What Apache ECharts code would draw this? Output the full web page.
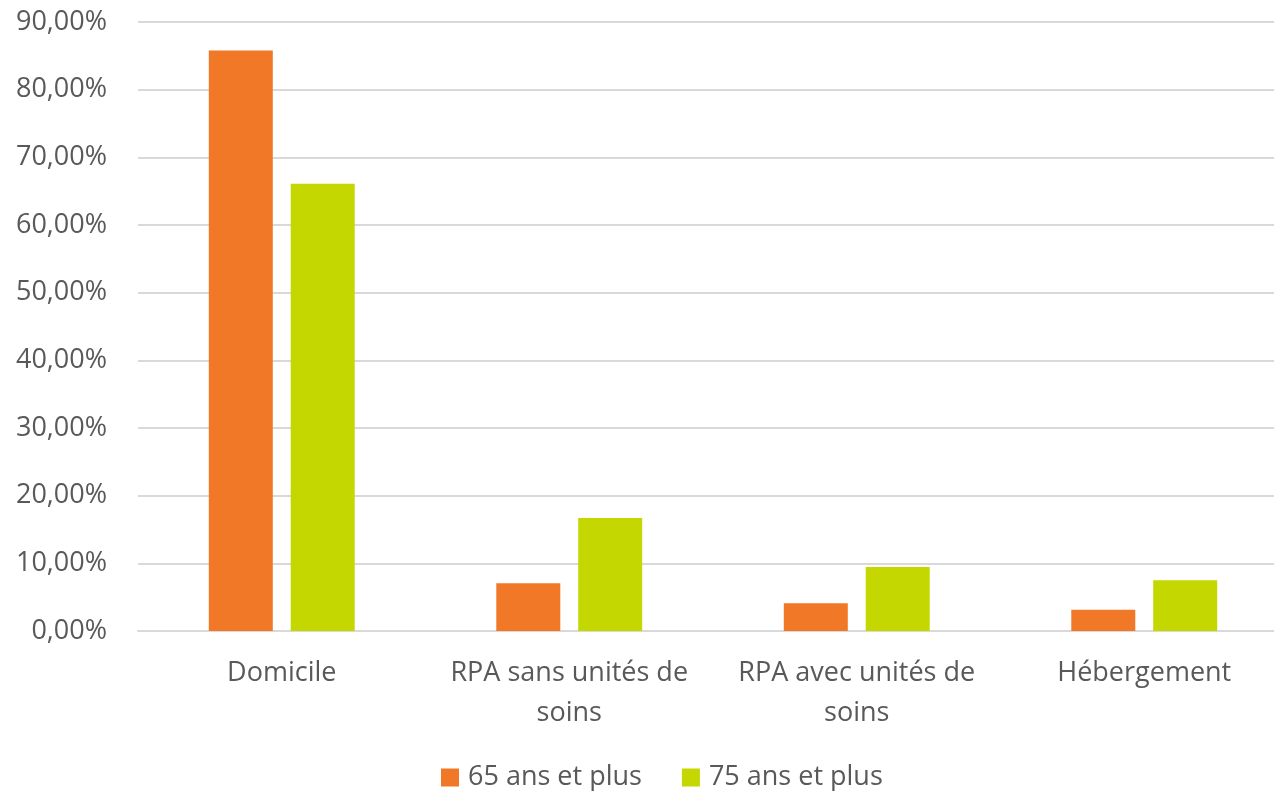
<!DOCTYPE html>
<html>
<head>
<meta charset="utf-8">
<script src="https://cdn.jsdelivr.net/npm/echarts@6/dist/echarts.min.js"></script>
<style>
  html, body { margin: 0; padding: 0; background: #fff; }
  #chart { width: 1274px; height: 791px; }
</style>
</head>
<body>
<div id="chart"></div>
<script>
// données (en %)
var categories = ['Domicile', 'RPA sans unités de\nsoins', 'RPA avec unités de\nsoins', 'Hébergement']
var seriesNames = ['65 ans et plus', '75 ans et plus']
var values65 = [85.8, 7.05, 4.1, 3.15]
var values75 = [66.1, 16.7, 9.45, 7.5]
var yTicks = { min: 0, max: 90, interval: 10 }

var font = '"Open Sans", "Liberation Sans", sans-serif'

var myChart = echarts.init(document.getElementById('chart'))
var option = {
  backgroundColor: '#ffffff',
  color: ['#F07826', '#C4D700'],
  animation: false,
  grid: {
    left: 138,
    width: 1150,   // le graphique d'origine est rogné à droite
    top: 22,
    bottom: 160,
    outerBoundsMode: 'none'
  },
  legend: {
    top: 759,
    left: 436,
    itemWidth: 18,
    itemHeight: 18,
    itemGap: 40,
    icon: 'rect',
    textStyle: { fontFamily: font, fontSize: 27, color: '#595959', padding: [0, 0, 0, 4] },
    data: seriesNames
  },
  xAxis: {
    type: 'category',
    data: categories,
    axisTick: { show: false },
    axisLine: { lineStyle: { color: '#d9d9d9', width: 2 } },
    axisLabel: {
      interval: 0,
      margin: 22,
      fontFamily: font,
      fontSize: 27,
      color: '#595959',
      lineHeight: 40
    }
  },
  yAxis: {
    type: 'value',
    min: yTicks.min,
    max: yTicks.max,
    interval: yTicks.interval,
    axisLine: { show: false },
    axisTick: { show: false },
    splitLine: { lineStyle: { color: '#d9d9d9', width: 2 } },
    axisLabel: {
      margin: 31,
      fontFamily: font,
      fontSize: 27,
      color: '#595959',
      formatter: function (v) { return v.toFixed(2).replace('.', ',') + '%' }
    }
  },
  series: [
    {
      name: seriesNames[0],
      type: 'bar',
      barWidth: 64,
      barGap: '28%',
      data: values65
    },
    {
      name: seriesNames[1],
      type: 'bar',
      barWidth: 64,
      data: values75
    }
  ]
}
myChart.setOption(option)
</script>
</body>
</html>
